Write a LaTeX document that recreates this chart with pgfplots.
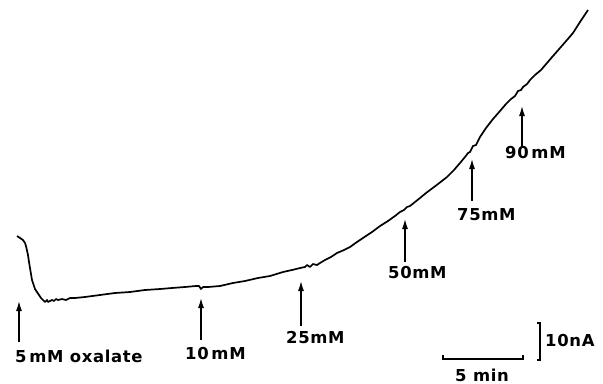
\documentclass[border=0pt]{standalone}
\usepackage{fontspec}
\setmainfont{DejaVu Sans}[LetterSpace=4]
\usepackage{pgfplots}
\pgfplotsset{compat=1.18}
\usetikzlibrary{arrows.meta}
\tikzset{
  lab/.style={font=\bfseries\fontsize{16.5}{19}\selectfont, inner sep=0pt, anchor=base west},
  arr/.style={line width=1.3bp, -{Latex[length=10bp,width=6bp]}, black},
}
\begin{document}
\begin{tikzpicture}
\begin{axis}[
  scale only axis, width=603bp, height=384bp,
  xmin=0, xmax=603, ymin=0, ymax=384, y dir=reverse,
  hide axis, clip=false,
]
% frame of the picture (invisible)
\addplot[draw=none, forget plot] coordinates {(0,0) (603,384)};
% recorded current trace (pixel units, y downward)
\addplot[black, line width=1.7bp, line join=round] coordinates {
(17,236) (20,238) (23,240) (25,243) (26,246) (28,255) (29,262) (30,268) (31,274) (32,280) (34,286) (35,289)
(37,292) (39,295) (41,298) (43,300) (45,302) (47,300) (48,302) (50,301) (52,300) (54,301) (56,299) (58,300)
(62,299) (66,300) (70,298) (75,298) (85,297) (100,295) (115,293) (130,292) (145,290) (160,289) (172,288)
(185,287) (196,286) (199,286) (201,289) (203,287) (208,287) (220,286) (233,283) (245,281) (258,278) (270,276)
(283,272) (292,270) (300,268) (305,267) (307,265) (310,267) (313,264) (317,265) (320,263) (325,260)
(331,257) (337,253) (344,250) (350,247) (357,242) (363,238) (372,232) (380,226) (388,221) (395,216)
(400,212) (404,210) (407,207) (410,206) (415,202) (420,198) (426,193) (430,190) (438,184) (447,177)
(454,170) (460,163) (465,157) (468,153) (470,152) (473,146) (476,145) (480,137) (486,128) (493,119) (500,111)
(506,104) (511,99) (515,96) (518,91) (521,90) (523,87) (527,84) (530,80) (535,75) (541,70) (547,63)
(553,56) (560,48) (567,40) (573,33) (580,22) (588,10)
};
% addition arrows
\addplot[arr] coordinates {(19,342) (19,301)};
\addplot[arr] coordinates {(201,340) (201,298)};
\addplot[arr] coordinates {(301,326) (301,281)};
\addplot[arr] coordinates {(405,262) (405,219)};
\addplot[arr] coordinates {(472,201) (472,159)};
\addplot[arr] coordinates {(522,146) (522,106)};
% scale bars
\addplot[black, line width=1.5bp] coordinates {(443,355) (443,359) (523,359) (523,355)};
\addplot[black, line width=1.5bp] coordinates {(537,323) (540,323) (540,360) (537,360)};
% labels
\node[lab] at (axis cs:15,362) {5\,mM oxalate};
\node[lab] at (axis cs:185,359) {10\,mM};
\node[lab] at (axis cs:286,343) {25mM};
\node[lab] at (axis cs:388,278) {50mM};
\node[lab] at (axis cs:457,220) {75mM};
\node[lab] at (axis cs:505,158) {90\,mM};
\node[lab] at (axis cs:545,346) {10nA};
\node[lab] at (axis cs:455,381) {5 min};
\end{axis}
\end{tikzpicture}
\end{document}
